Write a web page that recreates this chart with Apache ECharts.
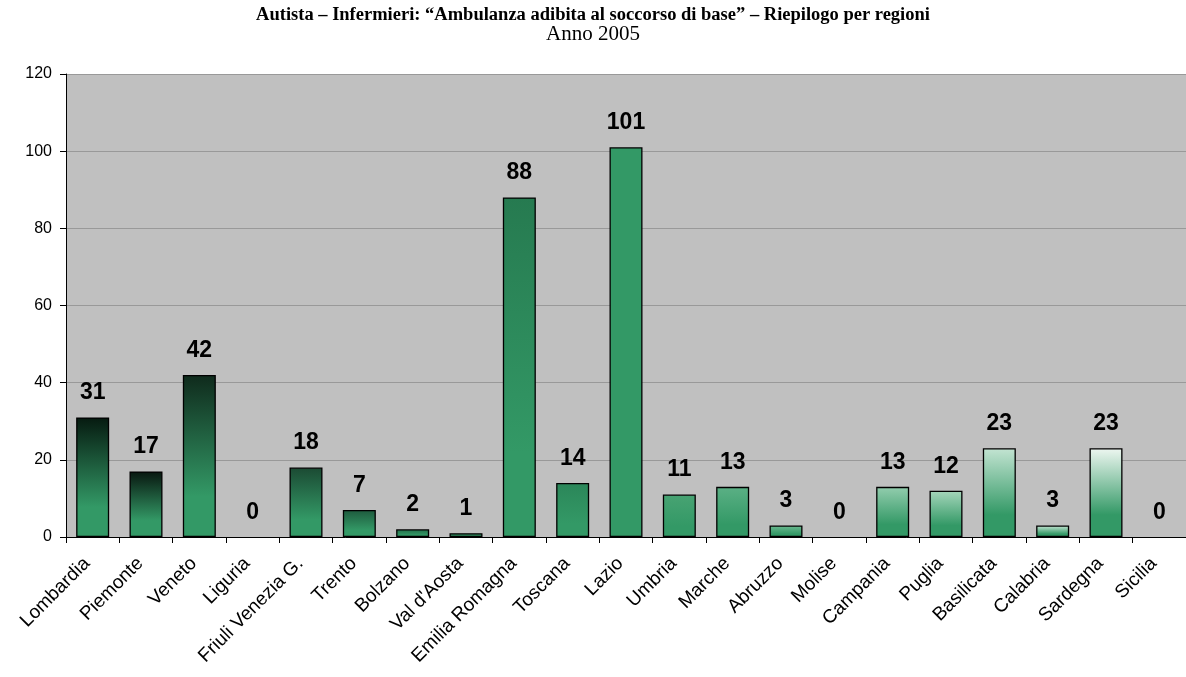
<!DOCTYPE html>
<html>
<head>
<meta charset="utf-8">
<script src="https://cdn.jsdelivr.net/npm/echarts@6/dist/echarts.min.js"></script>
<style>
html,body{margin:0;padding:0;background:#fff;}
#chart{width:1186px;height:677px;}
</style>
</head>
<body>
<div id="chart"></div>
<script>
const categories = ["Lombardia","Piemonte","Veneto","Liguria","Friuli Venezia G.","Trento","Bolzano","Val d'Aosta","Emilia Romagna","Toscana","Lazio","Umbria","Marche","Abruzzo","Molise","Campania","Puglia","Basilicata","Calabria","Sardegna","Sicilia"];
const values = [31,17,42,0,18,7,2,1,88,14,101,11,13,3,0,13,12,23,3,23,0];
const yTicks = [0,20,40,60,80,100,120];

// per-bar gradient top colours (style only)
const topColors = ["#061a10","#08160f","#0f2a1c","#339966","#1b4a33","#1e5a3d","#236b48","#2a7a52","#267a50","#2b8659","#339966","#48a373","#5bb085","#6fbb93","#339966","#93cdae","#a6d6bb","#c3e4d2","#cbe8d8","#eef7f1","#339966"];
const baseColor = "#339966";

const chart = echarts.init(document.getElementById('chart'), null, {renderer:'canvas'});
const seriesData = values.map((v,i) => ({
  value: v,
  itemStyle: {
    borderWidth: v === 0 ? 0 : 1.3,
    color: new echarts.graphic.LinearGradient(0,0,0,1,[
      {offset:0,color:topColors[i]},
      {offset:0.75,color:baseColor},
      {offset:1,color:baseColor}
    ])
  }
}));

chart.setOption({
  animation:false,
  backgroundColor:'#ffffff',
  title:{
    text:'Autista – Infermieri: “Ambulanza adibita al soccorso di base” – Riepilogo per regioni',
    subtext:'Anno 2005',
    left:'center',
    top:1,
    itemGap:0,
    textStyle:{fontFamily:'Liberation Serif',fontWeight:'bold',fontSize:18.5,color:'#000'},
    subtextStyle:{fontFamily:'Liberation Serif',fontSize:21,color:'#000',lineHeight:19}
  },
  grid:{
    left:66, right:-4, top:74, bottom:140,
    show:true, backgroundColor:'#c0c0c0', borderWidth:0
  },
  xAxis:{
    type:'category',
    data:categories,
    axisLine:{lineStyle:{color:'#000',width:1}},
    axisTick:{show:true,length:6,lineStyle:{color:'#000'}},
    axisLabel:{rotate:45,margin:18,interval:0,padding:[0,8,0,0],fontFamily:'Liberation Sans',fontSize:19,color:'#000'}
  },
  yAxis:{
    type:'value',
    min:yTicks[0], max:yTicks[yTicks.length-1], interval:20,
    axisLine:{show:true,lineStyle:{color:'#000',width:1}},
    axisTick:{show:true,length:6,lineStyle:{color:'#000'}},
    axisLabel:{margin:14,fontFamily:'Liberation Sans',fontSize:16,color:'#000'},
    splitLine:{show:true,lineStyle:{color:'#999999',width:1}}
  },
  series:[{
    type:'bar',
    data:seriesData,
    barWidth:33,
    itemStyle:{borderColor:'#000'},
    label:{
      show:true, position:'top', distance:13,
      fontFamily:'Liberation Sans', fontWeight:'bold', fontSize:23, color:'#000'
    }
  }]
});
</script>
</body>
</html>
